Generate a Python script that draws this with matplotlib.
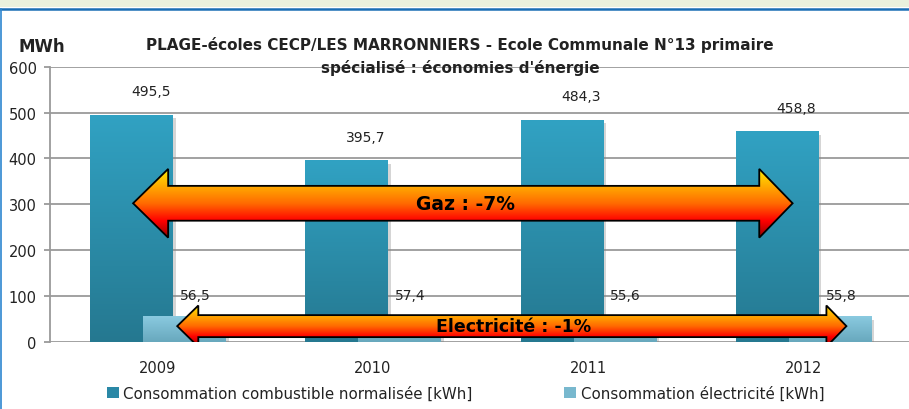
import matplotlib
matplotlib.use("Agg")
import matplotlib.pyplot as plt
import numpy as np
from matplotlib.colors import LinearSegmentedColormap
from matplotlib.patches import Polygon, Patch, Rectangle
from matplotlib import patheffects as pe

years = ["2009", "2010", "2011", "2012"]
gaz = [495.5, 395.7, 484.3, 458.8]
elec = [56.5, 57.4, 55.6, 55.8]
gaz_labels = ["495,5", "395,7", "484,3", "458,8"]
elec_labels = ["56,5", "57,4", "55,6", "55,8"]
series_names = ["Consommation combustible normalisée [kWh]",
                "Consommation électricité [kWh]"]

plt.rcParams["font.family"] = ["DejaVu Sans"]

fig = plt.figure(figsize=(9.09, 4.10), dpi=100)
fig.patch.set_facecolor("white")

# frame decorations (top band + blue border)
fig.patches.append(Rectangle((0, 1 - 8 / 410), 1, 8 / 410, transform=fig.transFigure,
                             facecolor="#EAF1DD", edgecolor="none", zorder=0))
fig.add_artist(plt.Line2D([0, 1], [1 - 9.5 / 410] * 2, transform=fig.transFigure,
                          color="#1A6EB5", lw=1.8))
fig.add_artist(plt.Line2D([0.6 / 909] * 2, [0, 1 - 9.5 / 410], transform=fig.transFigure,
                          color="#2E86D0", lw=1.2))

ax = fig.add_axes([50 / 909, 1 - 342.7 / 410, 861 / 909, 275 / 410])
x = np.arange(len(years))
width = 0.381
off = 0.123

dark_cmap = LinearSegmentedColormap.from_list("dk", ["#257890", "#31A2C3"])
light_cmap = LinearSegmentedColormap.from_list("lt", ["#68A8BD", "#8ACAE0"])
grad = np.linspace(0, 1, 256).reshape(-1, 1)

shadow = [pe.SimplePatchShadow(offset=(2.5, -2.5), shadow_rgbFace="#888888", alpha=0.35), pe.Normal()]

b1 = ax.bar(x - off, gaz, width, color="#2B8FAD", zorder=3, path_effects=shadow)
b2 = ax.bar(x + off, elec, width, color="#7BBBD0", zorder=4, path_effects=shadow)
for bars, cmap, z in ((b1, dark_cmap, 3.1), (b2, light_cmap, 4.1)):
    for b in bars:
        x0, y0 = b.get_x(), b.get_y()
        im = ax.imshow(grad, cmap=cmap, origin="lower", aspect="auto",
                       extent=[x0, x0 + b.get_width(), y0, y0 + b.get_height()],
                       zorder=z)
        im.set_clip_path(b)

for i, (v, s) in enumerate(zip(gaz, gaz_labels)):
    ax.annotate(s, (x[i] - off, v), xytext=(14, 17), textcoords="offset points",
                ha="center", va="center", fontsize=10, color="#222222", zorder=6)
for i, (v, s) in enumerate(zip(elec, elec_labels)):
    ax.annotate(s, (x[i] + off, v), xytext=(8, 15), textcoords="offset points",
                ha="center", va="center", fontsize=10, color="#222222", zorder=6)

# double arrows with gradient fill
arrow_cmap = LinearSegmentedColormap.from_list(
    "arr", [(0, "#900000"), (0.25, "#FF0000"), (0.5, "#FF6A00"),
            (0.75, "#FFAA00"), (1.0, "#FFE800")])


def double_arrow(xl, xr, yc, shaft, head, hl_left, hl_right, text, fs, tx):
    verts = [
        (xl, yc),
        (xl + hl_left, yc + head),
        (xl + hl_left, yc + shaft),
        (xr - hl_right, yc + shaft),
        (xr - hl_right, yc + head),
        (xr, yc),
        (xr - hl_right, yc - head),
        (xr - hl_right, yc - shaft),
        (xl + hl_left, yc - shaft),
        (xl + hl_left, yc - head),
    ]
    poly = Polygon(verts, closed=True, facecolor="none", edgecolor="black",
                   lw=1.3, zorder=8, joinstyle="miter")
    ax.add_patch(poly)
    im = ax.imshow(grad, cmap=arrow_cmap, origin="lower", aspect="auto",
                   extent=[xl, xr, yc - head, yc + head], zorder=7)
    im.set_clip_path(poly)
    ax.text(tx, yc, text, ha="center", va="center", fontsize=fs,
            fontweight="bold", color="black", zorder=9)


double_arrow(-0.114, 2.95, 302, 38, 75, 0.163, 0.155, "Gaz : -7%", 13.5, 1.43)
double_arrow(0.091, 3.20, 34, 24, 45, 0.098, 0.093, "Electricité : -1%", 12.5, 1.655)

ax.set_xlim(-0.5, 3.5)
ax.set_ylim(0, 600)
ax.set_yticks(range(0, 601, 100))
ax.set_xticks(x)
ax.set_xticklabels(years)
ax.yaxis.grid(True, color="#9A9A9A", lw=1.3, zorder=0)
ax.set_axisbelow(True)
for side in ("top", "right", "bottom"):
    ax.spines[side].set_visible(False)
ax.spines["left"].set_color("#9A9A9A")
ax.spines["left"].set_linewidth(1.3)
ax.tick_params(axis="y", length=4.5, width=1.3, color="#9A9A9A", pad=5,
               labelsize=10.5, labelcolor="#222222")
ax.tick_params(axis="x", length=0, pad=13, labelsize=10.5, labelcolor="#222222")
ax.set_facecolor("none")

fig.text(0.506, 1 - 45 / 410, "PLAGE-écoles CECP/LES MARRONNIERS - Ecole Communale N°13 primaire",
         ha="center", va="center", fontsize=11, fontweight="bold", color="#222222")
fig.text(0.506, 1 - 68 / 410, "spécialisé : économies d'énergie",
         ha="center", va="center", fontsize=11, fontweight="bold", color="#222222", zorder=10)
fig.text(18 / 909, 1 - 47 / 410, "MWh", ha="left", va="center", fontsize=12,
         fontweight="bold", color="#222222")

handles = [Patch(facecolor="#2A88A6", edgecolor="none"),
           Patch(facecolor="#78B8CE", edgecolor="none")]
fig.legend(handles, series_names, loc="center", bbox_to_anchor=(0.512, 1 - 394 / 410),
           ncol=2, frameon=False, fontsize=10.8, handlelength=0.8, handleheight=0.8,
           handletextpad=0.3, columnspacing=6.1, labelcolor="#222222")

fig.savefig("out.png", dpi=100)
